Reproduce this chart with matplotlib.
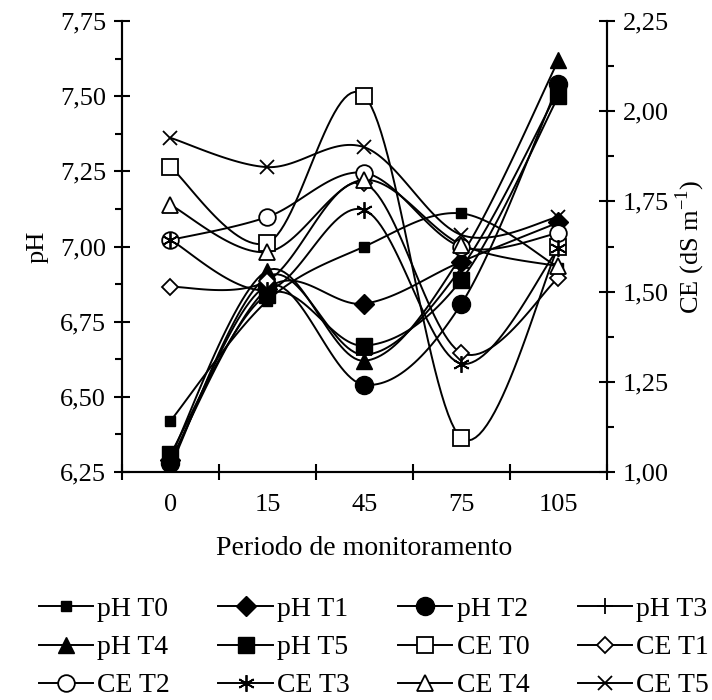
import numpy as np
import matplotlib.pyplot as plt
from matplotlib.ticker import MultipleLocator, FixedLocator, FuncFormatter
from matplotlib.lines import Line2D

plt.rcParams['font.family'] = ['Liberation Serif', 'DejaVu Serif']
plt.rcParams['mathtext.fontset'] = 'custom'
plt.rcParams['mathtext.rm'] = 'Liberation Serif'

periods = ['0', '15', '45', '75', '105']

# pH values (left axis)
ph_t0 = [6.42, 6.82, 7.00, 7.11, 6.93]
ph_t1 = [6.29, 6.86, 6.81, 6.95, 7.08]
ph_t2 = [6.28, 6.87, 6.54, 6.81, 7.54]
ph_t3 = [6.27, 6.90, 6.64, 6.93, 7.52]
ph_t4 = [6.30, 6.92, 6.62, 6.97, 7.62]
ph_t5 = [6.31, 6.84, 6.67, 6.89, 7.50]

# CE values, dS m-1 (right axis)
ce_t0 = [1.845, 1.635, 2.042, 1.094, 1.624]
ce_t1 = [1.513, 1.530, 1.800, 1.330, 1.538]
ce_t2 = [1.643, 1.707, 1.829, 1.624, 1.662]
ce_t3 = [1.643, 1.505, 1.726, 1.300, 1.620]
ce_t4 = [1.740, 1.610, 1.810, 1.630, 1.570]
ce_t5 = [1.926, 1.845, 1.900, 1.657, 1.707]


def smooth(y, n=30):
    # catmull-rom style smoothing, like a spreadsheet smoothed line
    y = np.asarray(y, dtype=float)
    x = np.arange(len(y)) + 0.5
    xp = np.concatenate([[x[0]], x, [x[-1]]])
    yp = np.concatenate([[y[0]], y, [y[-1]]])
    xs, ys = [], []
    for i in range(1, len(xp) - 2):
        p0x, p1x, p2x, p3x = xp[i - 1], xp[i], xp[i + 1], xp[i + 2]
        p0y, p1y, p2y, p3y = yp[i - 1], yp[i], yp[i + 1], yp[i + 2]
        c1x = p1x + (p2x - p0x) / 6
        c1y = p1y + (p2y - p0y) / 6
        c2x = p2x - (p3x - p1x) / 6
        c2y = p2y - (p3y - p1y) / 6
        t = np.linspace(0, 1, n)
        bx = (1 - t) ** 3 * p1x + 3 * (1 - t) ** 2 * t * c1x + 3 * (1 - t) * t ** 2 * c2x + t ** 3 * p2x
        by = (1 - t) ** 3 * p1y + 3 * (1 - t) ** 2 * t * c1y + 3 * (1 - t) * t ** 2 * c2y + t ** 3 * p2y
        xs.append(bx)
        ys.append(by)
    return np.concatenate(xs), np.concatenate(ys)


fig = plt.figure(figsize=(7.12, 7.0), dpi=100)
ax = fig.add_axes([0.1713, 0.3257, 0.6812, 0.6443])
ax2 = ax.twinx()

x_pos = np.arange(len(periods)) + 0.5

ph_series = [
    ("pH T0", ph_t0, dict(marker='s', ms=6.5, mfc='black')),
    ("pH T1", ph_t1, dict(marker='D', ms=10, mfc='black')),
    ("pH T2", ph_t2, dict(marker='o', ms=13, mfc='black')),
    ("pH T3", ph_t3, dict(marker='+', ms=12, mew=1.3)),
    ("pH T4", ph_t4, dict(marker='^', ms=11, mfc='black')),
    ("pH T5", ph_t5, dict(marker='s', ms=11, mfc='black')),
]

ce_series = [
    ("CE T0", ce_t0, dict(marker='s', ms=11, mfc='white', mew=1.3)),
    ("CE T1", ce_t1, dict(marker='D', ms=8, mfc='white', mew=1.3)),
    ("CE T2", ce_t2, dict(marker='o', ms=12, mfc='white', mew=1.3)),
    ("CE T3", ce_t3, dict(marker=(6, 2, 0), ms=12, mew=1.3)),
    ("CE T4", ce_t4, dict(marker='^', ms=11, mfc='white', mew=1.3)),
    ("CE T5", ce_t5, dict(marker='x', ms=10, mew=1.3)),
]

handles = []

for name, vals, style in ph_series:
    sx, sy = smooth(vals)
    ax.plot(sx, sy, color='black', lw=1.4, zorder=2)
    ax.plot(x_pos, vals, ls='none', color='black', mec='black', zorder=3, **style)
    handles.append(Line2D([], [], color='black', lw=1.4, mec='black', label=name, **style))

for name, vals, style in ce_series:
    sx, sy = smooth(vals)
    ax2.plot(sx, sy, color='black', lw=1.4, zorder=2)
    ax2.plot(x_pos, vals, ls='none', color='black', mec='black', zorder=3, **style)
    handles.append(Line2D([], [], color='black', lw=1.4, mec='black', label=name, **style))

ax.set_xlim(0, len(periods))
ax.set_ylim(6.25, 7.75)
ax2.set_ylim(1.00, 2.25)

comma = FuncFormatter(lambda v, p: f"{v:.2f}".replace('.', ','))

ax.yaxis.set_major_locator(MultipleLocator(0.25))
ax.yaxis.set_minor_locator(MultipleLocator(0.125))
ax.yaxis.set_major_formatter(comma)
ax2.yaxis.set_major_locator(MultipleLocator(0.25))
ax2.yaxis.set_minor_locator(MultipleLocator(0.125))
ax2.yaxis.set_major_formatter(comma)

ax.xaxis.set_major_locator(FixedLocator(np.arange(len(periods) + 1)))
ax.xaxis.set_major_formatter(FuncFormatter(lambda v, p: ""))
ax.xaxis.set_minor_locator(FixedLocator(x_pos))
ax.set_xticklabels(periods, minor=True)

for a in (ax, ax2):
    a.spines['top'].set_visible(False)
    for s in a.spines.values():
        s.set_linewidth(1.5)

fs = 19

ax.tick_params(axis='y', which='major', direction='inout', length=11, width=1.5,
               labelsize=fs, pad=6)
ax.tick_params(axis='y', which='minor', direction='out', length=5, width=1.5)
ax2.tick_params(axis='y', which='major', direction='inout', length=11, width=1.5,
                labelsize=fs, pad=6)
ax2.tick_params(axis='y', which='minor', direction='out', length=5, width=1.5)
ax.tick_params(axis='x', which='major', direction='inout', length=11, width=1.5)
ax.tick_params(axis='x', which='minor', length=0, labelsize=fs, pad=16)

ax.set_ylabel("pH", fontsize=fs, labelpad=8)
ax2.set_ylabel("CE (dS m$^{-1}$)", fontsize=fs, labelpad=3)
ax.set_xlabel("Periodo de monitoramento", fontsize=20, labelpad=14)

# row-major order for a 4-column legend
order = []
for c in range(4):
    for r in range(3):
        order.append(handles[r * 4 + c])

fig.legend(
    handles=order,
    loc='center',
    bbox_to_anchor=(0.525, 0.075),
    ncol=4,
    frameon=False,
    fontsize=20,
    handlelength=1.95,
    handletextpad=0.15,
    columnspacing=1.75,
    labelspacing=0.46,
    borderaxespad=0.0,
)

fig.savefig("out.png", dpi=100)
